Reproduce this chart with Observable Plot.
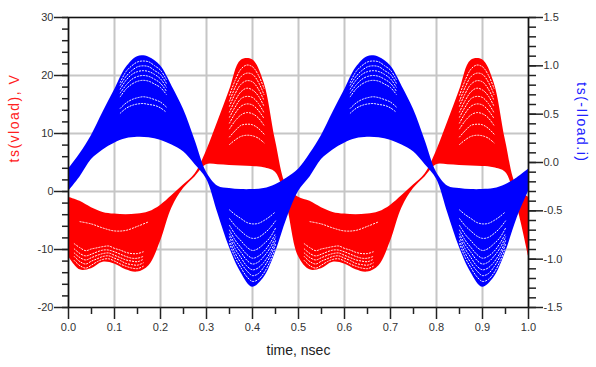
<!DOCTYPE html>
<html>
<head>
<meta charset="utf-8">
<script src="https://cdn.jsdelivr.net/npm/d3@7"></script>
<script src="https://cdn.jsdelivr.net/npm/@observablehq/plot@0.6"></script>
<style>
  html, body { margin: 0; padding: 0; background: #fff; }
  #chart { width: 596px; height: 367px; }
  .axlabel { letter-spacing: 1.5px; }
</style>
</head>
<body>
<div id="chart"></div>
<script>
// time axis, nsec
const time = [
  0.000, 0.025, 0.050, 0.075, 0.100, 0.125, 0.150, 0.175, 0.200, 0.225,
  0.250, 0.275, 0.300, 0.325, 0.350, 0.375, 0.400, 0.425, 0.450, 0.475,
  0.500, 0.525, 0.550, 0.575, 0.600, 0.625, 0.650, 0.675, 0.700, 0.725,
  0.750, 0.775, 0.800, 0.825, 0.850, 0.875, 0.900, 0.925, 0.950, 0.975,
  1.000
];
// ts(vload), V : upper and lower edge of the swept trace family
const vloadHigh = [
  -1.0, -1.7, -2.8, -3.6, -3.9, -4.0, -3.9, -3.5, -2.4, -0.7,
   1.1,  3.0,  7.0, 12.1, 17.4, 22.6, 22.7, 18.8,  8.8,  0.8,
  -1.0, -1.7, -2.8, -3.6, -3.9, -4.0, -3.9, -3.5, -2.4, -0.7,
   1.1,  3.0,  7.0, 12.1, 17.4, 22.6, 22.7, 18.8,  8.8,  0.8,
  -1.0
];
const vloadLow = [
  -11.2, -13.5, -13.3, -12.2, -12.5, -13.5, -13.9, -12.8, -8.6, -2.8,
    0.5,   2.5,   4.6,   4.6,   4.5,   4.4,   4.3,   4.1,  3.3, -2.5,
  -11.2, -13.5, -13.3, -12.2, -12.5, -13.5, -13.9, -12.8, -8.6, -2.8,
    0.5,   2.5,   4.6,   4.6,   4.5,   4.4,   4.3,   4.1,  3.3, -2.5,
  -11.2
];
// ts(-Iload.i), A : upper and lower edge of the swept trace family
const iloadHigh = [
  -0.07, 0.09, 0.28, 0.52, 0.75, 0.98, 1.095, 1.09, 1.00, 0.79,
   0.55, 0.23, -0.10, -0.245, -0.27, -0.28, -0.28, -0.27, -0.23, -0.16,
  -0.07, 0.09, 0.28, 0.52, 0.75, 0.98, 1.095, 1.09, 1.00, 0.79,
   0.55, 0.23, -0.10, -0.245, -0.27, -0.28, -0.28, -0.27, -0.23, -0.16,
  -0.07
];
const iloadLow = [
  -0.30, -0.15, 0.03, 0.13, 0.20, 0.245, 0.26, 0.255, 0.23, 0.18,
   0.11, -0.02, -0.17, -0.53, -0.88, -1.14, -1.29, -1.19, -0.93, -0.58,
  -0.30, -0.15, 0.03, 0.13, 0.20, 0.245, 0.26, 0.255, 0.23, 0.18,
   0.11, -0.02, -0.17, -0.53, -0.88, -1.14, -1.29, -1.19, -0.93, -0.58,
  -0.30
];

// white gaps between neighbouring traces (visible where the sweep spreads out)
const periodStarts = [0, 0.5];
const vPulseGapTime = [0.35, 0.3625, 0.375, 0.3875, 0.40, 0.4125, 0.425];
const vPulseGaps = [
  [16.6, 19.2, 21.1, 21.8, 21.5, 20.1, 17.8],
  [15.6, 18.0, 19.8, 20.4, 20.2, 18.9, 16.7],
  [14.7, 16.9, 18.5, 19.1, 18.9, 17.7, 15.7],
  [13.7, 15.7, 17.2, 17.8, 17.5, 16.5, 14.7],
  [12.8, 14.6, 16.0, 16.4, 16.2, 15.2, 13.6],
  [11.8, 13.5, 14.7, 15.1, 14.9, 14.0, 12.6],
  [10.8, 12.2, 13.2, 13.6, 13.4, 12.7, 11.4],
  [ 9.4, 10.5, 11.4, 11.6, 11.5, 10.9,  9.9],
  [ 8.1,  8.9,  9.5,  9.7,  9.6,  9.2,  8.4]
];
const vValleyGapTime = [0.0125, 0.025, 0.0375, 0.05, 0.0625, 0.075, 0.0875, 0.10, 0.1125, 0.125, 0.1375, 0.15, 0.1625];
const vValleyGaps = [
  [-11.9, -12.8, -13.2, -12.7, -12.1, -11.7, -11.6, -12.0, -12.5, -12.9, -13.2, -13.3, -12.9],
  [-11.2, -12.1, -12.5, -12.0, -11.6, -11.2, -11.1, -11.5, -11.9, -12.4, -12.6, -12.7, -12.3],
  [-10.6, -11.4, -11.8, -11.4, -11.0, -10.7, -10.6, -11.0, -11.4, -11.8, -12.0, -12.1, -11.7],
  [ -9.9, -10.7, -11.1, -10.8, -10.4, -10.1, -10.1, -10.4, -10.8, -11.2, -11.5, -11.5, -11.2],
  [ -9.0,  -9.7, -10.2,  -9.9,  -9.7,  -9.5,  -9.4,  -9.8, -10.1, -10.5, -10.7, -10.7, -10.4]
];
const vRowGapTime = [0.025, 0.05, 0.075, 0.10, 0.125, 0.15, 0.175];
const vRowGaps = [
  [-5.2, -5.6, -6.3, -6.8, -6.7, -6.0, -5.2]
];
const iPeakGapTime = [0.1125, 0.125, 0.1375, 0.15, 0.1625, 0.175, 0.1875, 0.20, 0.2125];
const iPeakGaps = [
  [0.83, 0.94, 1.00, 1.04, 1.05, 1.04, 1.00, 0.955, 0.86],
  [0.80, 0.89, 0.95, 0.99, 1.00, 0.99, 0.95, 0.91, 0.82],
  [0.76, 0.85, 0.91, 0.94, 0.95, 0.94, 0.91, 0.865, 0.78],
  [0.72, 0.80, 0.86, 0.89, 0.90, 0.89, 0.86, 0.82, 0.74],
  [0.68, 0.76, 0.81, 0.84, 0.85, 0.84, 0.81, 0.775, 0.705],
  [0.56, 0.615, 0.65, 0.67, 0.68, 0.67, 0.65, 0.625, 0.575],
  [0.51, 0.56, 0.59, 0.605, 0.61, 0.60, 0.59, 0.565, 0.52]
];
const iTroughGapTime = [0.35, 0.3625, 0.375, 0.3875, 0.40, 0.4125, 0.425, 0.4375, 0.45];
const iTroughGaps = [
  [-0.84, -0.985, -1.09, -1.18, -1.23, -1.21, -1.14, -1.03, -0.89],
  [-0.81, -0.94, -1.04, -1.12, -1.17, -1.15, -1.08, -0.98, -0.85],
  [-0.77, -0.895, -0.985, -1.07, -1.11, -1.09, -1.03, -0.94, -0.81],
  [-0.74, -0.85, -0.93, -1.01, -1.05, -1.03, -0.97, -0.89, -0.77],
  [-0.70, -0.805, -0.88, -0.95, -0.99, -0.97, -0.92, -0.84, -0.735],
  [-0.65, -0.745, -0.81, -0.875, -0.91, -0.89, -0.84, -0.78, -0.68],
  [-0.58, -0.655, -0.71, -0.76, -0.785, -0.775, -0.735, -0.68, -0.605],
  [-0.49, -0.54, -0.58, -0.62, -0.635, -0.63, -0.60, -0.56, -0.51]
];

// axes
const xTicks = [0, 0.1, 0.2, 0.3, 0.4, 0.5, 0.6, 0.7, 0.8, 0.9, 1.0];
const xMinor = [0.05, 0.15, 0.25, 0.35, 0.45, 0.55, 0.65, 0.75, 0.85, 0.95];
const leftTicks = [-20, -10, 0, 10, 20, 30];
const leftGrid = [-10, 0, 10, 20];
const rightTicks = [-1.5, -1.0, -0.5, 0.0, 0.5, 1.0, 1.5];
const leftDomain = [-20, 30];
const rightDomain = [-1.5, 1.5];

// map right-axis values (A) onto the left-axis scale
const toLeft = a => leftDomain[0] + (a - rightDomain[0]) * (leftDomain[1] - leftDomain[0]) / (rightDomain[1] - rightDomain[0]);
const fromLeft = v => rightDomain[0] + (v - leftDomain[0]) * (rightDomain[1] - rightDomain[0]) / (leftDomain[1] - leftDomain[0]);

const vRows = time.map((t, i) => ({t, lo: vloadLow[i], hi: vloadHigh[i]}));
const iRows = time.map((t, i) => ({t, lo: toLeft(iloadLow[i]), hi: toLeft(iloadHigh[i])}));

function gapRows(times, curves, conv, tag) {
  return periodStarts.flatMap(p => curves.flatMap((c, k) =>
    times.map((t, i) => ({t: t + p, v: conv(c[i]), key: tag + p + "-" + k}))));
}
const same = v => v;
const vGapRows = [
  ...gapRows(vPulseGapTime, vPulseGaps, same, "vp"),
  ...gapRows(vValleyGapTime, vValleyGaps, same, "vv"),
  ...gapRows(vRowGapTime, vRowGaps, same, "vr")
];
const iGapRows = [
  ...gapRows(iPeakGapTime, iPeakGaps, toLeft, "ip"),
  ...gapRows(iTroughGapTime, iTroughGaps, toLeft, "it")
];

const leftMinor = d3.range(leftDomain[0], leftDomain[1] + 0.001, 2);
const rightMinor = d3.range(-15, 16).map(k => toLeft(k / 10));

const tickColor = "#222";
const font = "'Liberation Sans', Arial, sans-serif";
const gapStyle = {x: "t", y: "v", z: "key", stroke: "#fff", strokeWidth: 1, strokeDasharray: "1.2,1.8", curve: "catmull-rom"};

const chart = Plot.plot({
  width: 596,
  height: 367,
  marginLeft: 68,
  marginRight: 68,
  marginTop: 17,
  marginBottom: 60,
  style: {fontFamily: font, fontSize: "11px", background: "#fff", color: "#333"},
  x: {domain: [0, 1]},
  y: {domain: leftDomain},
  marks: [
    Plot.gridX(xTicks, {stroke: "#c6c6c6", strokeOpacity: 1, strokeWidth: 2}),
    Plot.gridY(leftGrid, {stroke: "#c6c6c6", strokeOpacity: 1, strokeWidth: 2}),
    Plot.areaY(vRows, {x: "t", y1: "lo", y2: "hi", fill: "#ff0000", curve: "catmull-rom"}),
    Plot.line(vGapRows, gapStyle),
    Plot.areaY(iRows, {x: "t", y1: "lo", y2: "hi", fill: "#0000ff", curve: "catmull-rom"}),
    Plot.line(iGapRows, gapStyle),
    Plot.frame({stroke: "#111", strokeWidth: 1.6}),
    // bottom axis
    Plot.axisX(xTicks, {tickSize: 12, tickPadding: 4, tickFormat: d => d.toFixed(1), stroke: tickColor, strokeWidth: 1.5, fill: "#333", label: null}),
    Plot.axisX(xMinor, {tickSize: 7, tickFormat: () => null, stroke: tickColor, strokeWidth: 1.5, label: null}),
    // left axis
    Plot.axisY(leftTicks, {tickSize: 14, tickPadding: 1, tickFormat: d => String(d), stroke: tickColor, strokeWidth: 1.5, fill: "#333", label: null}),
    Plot.axisY(leftMinor, {tickSize: 6, tickFormat: () => null, stroke: tickColor, strokeWidth: 1.5, label: null}),
    // right axis
    Plot.axisY(rightTicks.map(toLeft), {anchor: "right", tickSize: 14, tickPadding: 1, tickFormat: v => fromLeft(v).toFixed(1), stroke: tickColor, strokeWidth: 1.5, fill: "#333", label: null}),
    Plot.axisY(rightMinor, {anchor: "right", tickSize: 7, tickFormat: () => null, stroke: tickColor, strokeWidth: 1.5, label: null}),
    // axis titles
    Plot.text(["ts(vload), V"], {frameAnchor: "left", dx: -54, rotate: -90, fill: "#ff2020", fontSize: 14}),
    Plot.text(["ts(-Iload.i)"], {frameAnchor: "right", dx: 53, rotate: 90, fill: "#2020ff", fontSize: 14}),
    Plot.text(["time, nsec"], {frameAnchor: "bottom", dy: 47, fill: "#222", fontSize: 14})
  ]
});
document.getElementById("chart").appendChild(chart);
chart.querySelectorAll("text").forEach(el => {
  const s = el.textContent;
  if (s === "ts(vload), V" || s === "ts(-Iload.i)") el.setAttribute("class", "axlabel");
});
</script>
</body>
</html>
